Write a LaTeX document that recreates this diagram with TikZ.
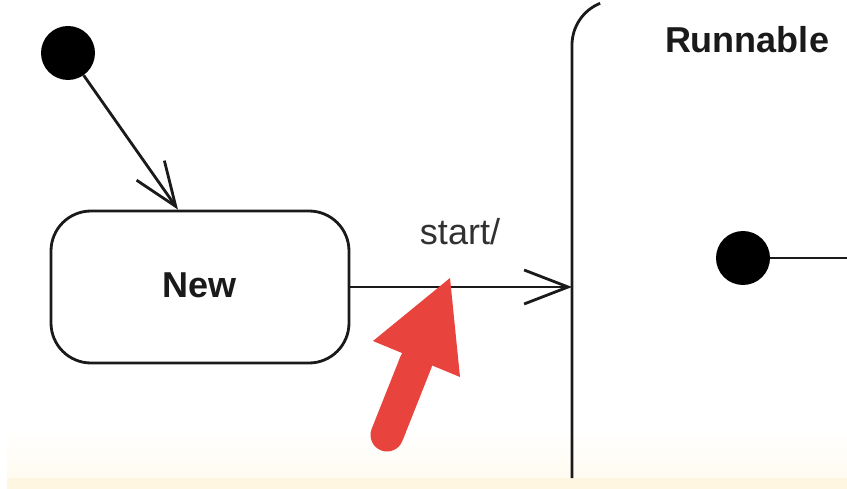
\documentclass[tikz,border=0pt]{standalone}
\usepackage{fontspec}
\setmainfont{Liberation Sans}
\usetikzlibrary{arrows.meta,shapes.misc}
\definecolor{ink}{HTML}{1A1A1A}
\definecolor{cream}{HTML}{FFFBF0}
\definecolor{creamdark}{HTML}{FEF6E0}
\definecolor{alertred}{HTML}{E8433D}
\tikzset{
  stroke/.style={draw=ink, line width=2.8pt},
  vtip/.style={-{Straight Barb[length=44pt,width=34pt,line width=2.8pt]}},
  initdot/.style={circle, fill=black, minimum size=54pt, inner sep=0pt},
  statebox/.style={stroke, rounded corners=40pt, minimum width=298pt, minimum height=152pt, inner sep=0pt},
  boldlabel/.style={font=\fontsize{36}{40}\selectfont\bfseries, text=ink, inner sep=0pt},
  translabel/.style={font=\fontsize{36}{40}\selectfont, text=ink!90, inner sep=0pt},
}
\begin{document}
\begin{tikzpicture}[x=1pt,y=-1pt]
\useasboundingbox (0,0) rectangle (847,489);
\fill[white] (0,0) rectangle (847,489);
% bottom cream band
\shade[top color=white, bottom color=cream] (7,430) rectangle (847,478);
\fill[creamdark] (7,478) rectangle (847,489);

% initial state and New
\node[initdot] (init) at (68,53) {};
\node[statebox] (new) at (200,287) {};
\node[boldlabel, anchor=base] (newtxt) at (200,298) {New};
\draw[stroke, vtip] (init) -- (new.north -| 178,0);

% Runnable composite state (left edge visible)
\draw[stroke] (572,478) -- (572,45) arc[start angle=180, end angle=248, radius=45];
\node[boldlabel, anchor=base] (runtxt) at (747,53) {Runnable};
\coordinate (runedge) at (572,287);

% transition start/
\draw[stroke, vtip] (new.east |- 0,287) -- (runedge);
\node[translabel, anchor=base] (start) at (460,245) {start/};

% inner initial state
\node[initdot] (init2) at (743,258) {};
\coordinate (rightout) at (847,258);
\draw[stroke] (init2) -- (rightout);

% red highlight arrow
\draw[alertred, line width=33pt, line cap=round] (387,435) -- (416,362);
\fill[alertred] (450,278) -- (373,341) -- (460,377) -- cycle;
\end{tikzpicture}
\end{document}
